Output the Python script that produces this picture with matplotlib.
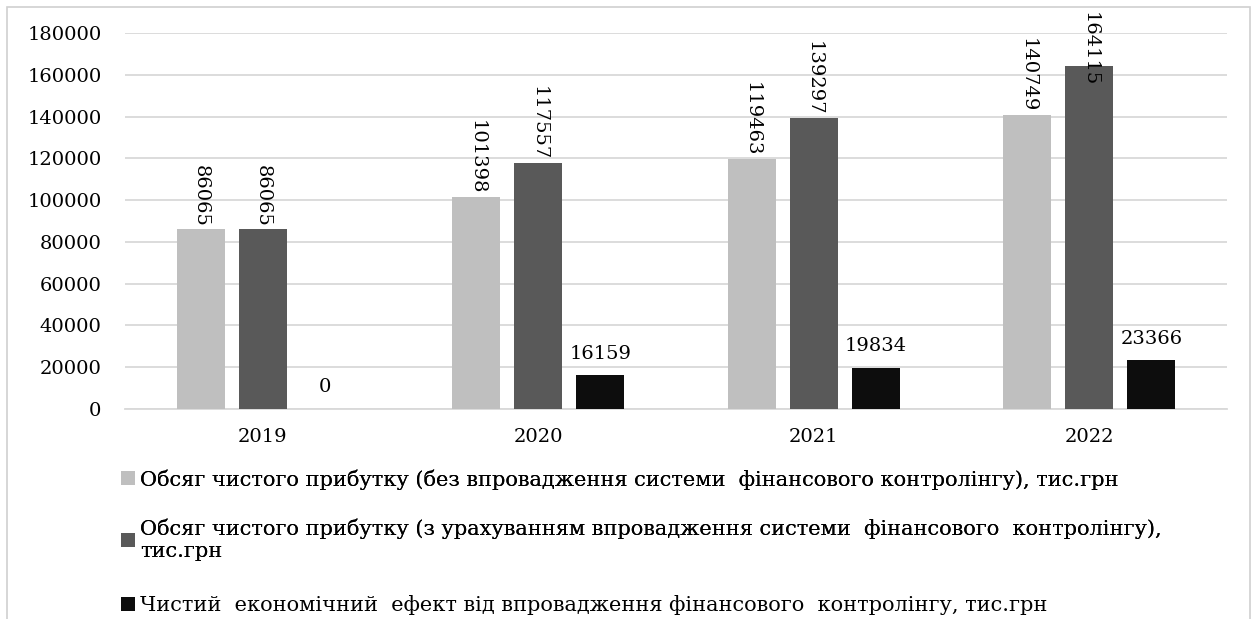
import matplotlib
matplotlib.use("Agg")
import matplotlib.pyplot as plt
import numpy as np
from matplotlib.patches import Rectangle

years = ["2019", "2020", "2021", "2022"]
without_control = [86065, 101398, 119463, 140749]
with_control = [86065, 117557, 139297, 164115]
net_effect = [0, 16159, 19834, 23366]

labels = [
    "Обсяг чистого прибутку (без впровадження системи  фінансового контролінгу), тис.грн",
    "Обсяг чистого прибутку (з урахуванням впровадження системи  фінансового  контролінгу),\nтис.грн",
    "Чистий  економічний  ефект від впровадження фінансового  контролінгу, тис.грн",
]
colors = ["#bfbfbf", "#595959", "#0d0d0d"]

plt.rcParams["font.family"] = ["DejaVu Serif"]
FS = 14
LFS = 15

W, H = 1259, 619
AX_TOP, AX_BOT = 33, 409
fig = plt.figure(figsize=(W / 100, H / 100), dpi=100)
ax = fig.add_axes([125 / W, 1 - AX_BOT / H, (1227 - 125) / W, (AX_BOT - AX_TOP) / H])

x = np.arange(len(years))
bw = 48 / 275.5
off = 62 / 275.5
series = [without_control, with_control, net_effect]
YMAX = 180000
bars = []
for i, (vals, c, lab) in enumerate(zip(series, colors, labels)):
    b = ax.bar(x + (i - 1) * off, vals, bw, color=c, label=lab, zorder=3)
    bars.append(b)
    for xi, v in zip(x + (i - 1) * off, vals):
        if i < 2:
            txt = f"{v}"
            # approximate label length in pixels; clamp at top of chart area
            lab_len = len(txt) * 0.636 * FS * 100 / 72
            bar_top_px = AX_BOT - v / YMAX * (AX_BOT - AX_TOP)
            if bar_top_px - 3 - lab_len < 12:
                ax.annotate(txt, (xi, (AX_BOT - 12) / (AX_BOT - AX_TOP)),
                            xycoords=("data", "axes fraction"),
                            rotation=270, ha="center", va="top", fontsize=FS, zorder=4)
            else:
                ax.annotate(txt, (xi, v), xytext=(0, 2), textcoords="offset points",
                            rotation=270, ha="center", va="bottom", fontsize=FS, zorder=4)
        else:
            ax.annotate(f"{v}", (xi, v), xytext=(0, 9), textcoords="offset points",
                        ha="center", va="bottom", fontsize=FS, zorder=4)

ax.set_xlim(-0.5, 3.5)
ax.set_ylim(0, YMAX)
ax.set_yticks(np.arange(0, YMAX + 1, 20000))
ax.set_xticks(x)
ax.set_xticklabels(years)
ax.tick_params(axis="both", length=0, labelsize=FS)
ax.tick_params(axis="y", pad=17)
ax.tick_params(axis="x", pad=14)
ax.grid(axis="y", color="#d9d9d9", linewidth=1.3, zorder=0)
for s in ["top", "right", "left"]:
    ax.spines[s].set_visible(False)
ax.spines["bottom"].set_color("#d9d9d9")
ax.spines["bottom"].set_linewidth(1.3)

common = dict(frameon=False, fontsize=LFS, handlelength=0.65, handleheight=0.65,
              handletextpad=0.25, borderaxespad=0, borderpad=0)
leg1 = fig.legend(handles=bars[:2], labels=labels[:2], loc="upper left",
                  bbox_to_anchor=(121 / W, 1 - 469 / H), labelspacing=1.4, **common)
fig.add_artist(leg1)
leg2 = fig.legend(handles=bars[2:], labels=labels[2:], loc="center left",
                  bbox_to_anchor=(121 / W, 1 - 605 / H), **common)

# outer frame (open at the bottom, as in the reference)
fig.patches.append(Rectangle((7 / W, -10 / H), (W - 9 - 7) / W, (H - 7 + 10) / H,
                             transform=fig.transFigure, fill=False,
                             edgecolor="#d0d0d0", linewidth=1.2))

fig.savefig("out.png", dpi=100)
